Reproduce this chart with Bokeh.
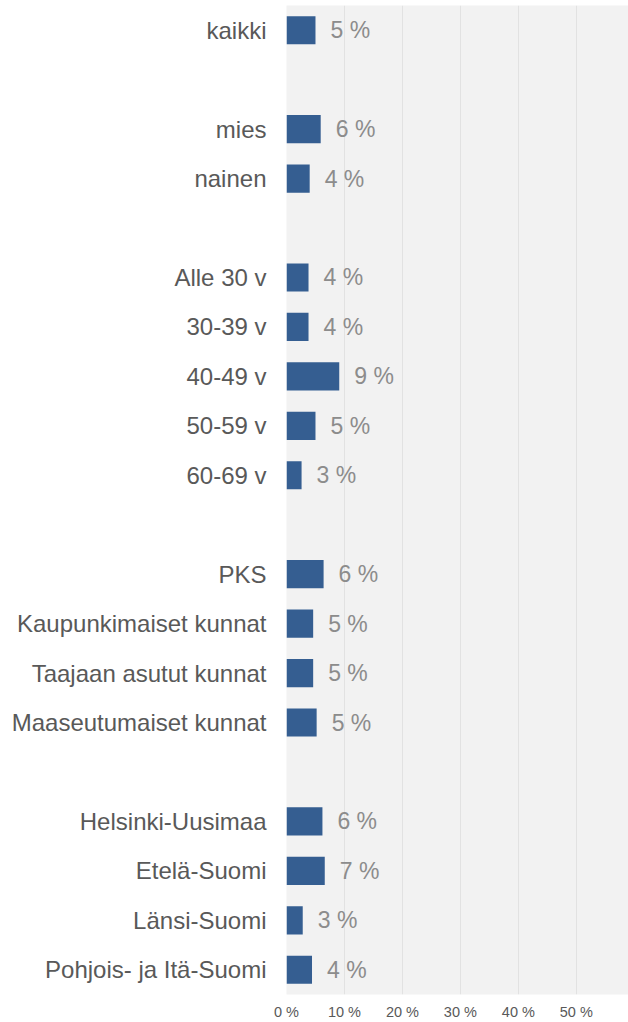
from bokeh.plotting import figure
from bokeh.models import ColumnDataSource, Range1d, FixedTicker, CustomJSTickFormatter
from bokeh.core.properties import value
from bokeh.embed import file_html
from bokeh.resources import INLINE

categories = ["kaikki", " ", "mies", "nainen", "  ",
              "Alle 30 v", "30-39 v", "40-49 v", "50-59 v", "60-69 v", "   ",
              "PKS", "Kaupunkimaiset kunnat", "Taajaan asutut kunnat", "Maaseutumaiset kunnat", "    ",
              "Helsinki-Uusimaa", "Etelä-Suomi", "Länsi-Suomi", "Pohjois- ja Itä-Suomi"]
values = [5.0, None, 5.9, 4.0, None,
          3.8, 3.8, 9.1, 5.0, 2.6, None,
          6.4, 4.6, 4.6, 5.2, None,
          6.2, 6.6, 2.8, 4.4]
x_ticks = [0, 10, 20, 30, 40, 50, 60]

bar_cats = [c for c, v in zip(categories, values) if v is not None]
bar_vals = [v for v in values if v is not None]
bar_labels = [f"{int(v + 0.5)} %" for v in bar_vals]

src = ColumnDataSource(dict(cat=bar_cats, val=bar_vals, lab=bar_labels))

p = figure(width=628, height=1022, y_range=list(reversed(categories)),
           x_range=Range1d(0, 59), output_backend="svg", toolbar_location=None,
           min_border_left=286, min_border_right=0, min_border_top=5, min_border_bottom=27)

p.hbar(y="cat", right="val", left=0, height=0.57, source=src,
       fill_color="#355E91", line_color=None)
p.text(x="val", y="cat", text="lab", source=src, x_offset=15,
       text_align="left", text_baseline="middle",
       text_font=value("Liberation Sans"), text_font_size="23px", text_color="#8c8c8c")

p.background_fill_color = "#f2f2f2"
p.border_fill_color = "white"
p.outline_line_color = None
p.ygrid.grid_line_color = None
p.xgrid.grid_line_color = "#e2e2e2"
p.xgrid.grid_line_width = 1

p.xaxis.ticker = FixedTicker(ticks=x_ticks)
p.xaxis.formatter = CustomJSTickFormatter(code="return tick + ' %';")
p.xaxis.axis_line_color = None
p.xaxis.major_tick_line_color = None
p.xaxis.minor_tick_line_color = None
p.xaxis.major_tick_out = 0
p.xaxis.major_tick_in = 0
p.xaxis.major_label_text_font = "Liberation Sans"
p.xaxis.major_label_text_font_size = "14.5px"
p.xaxis.major_label_text_color = "#595959"
p.xaxis.major_label_standoff = 9

p.yaxis.axis_line_color = None
p.yaxis.major_tick_line_color = None
p.yaxis.minor_tick_line_color = None
p.yaxis.major_tick_out = 0
p.yaxis.major_tick_in = 0
p.yaxis.major_label_text_font = "Liberation Sans"
p.yaxis.major_label_text_font_size = "24px"
p.yaxis.major_label_text_color = "#595959"
p.yaxis.major_label_standoff = 20

open("out.html", "w").write(file_html(p, INLINE))
